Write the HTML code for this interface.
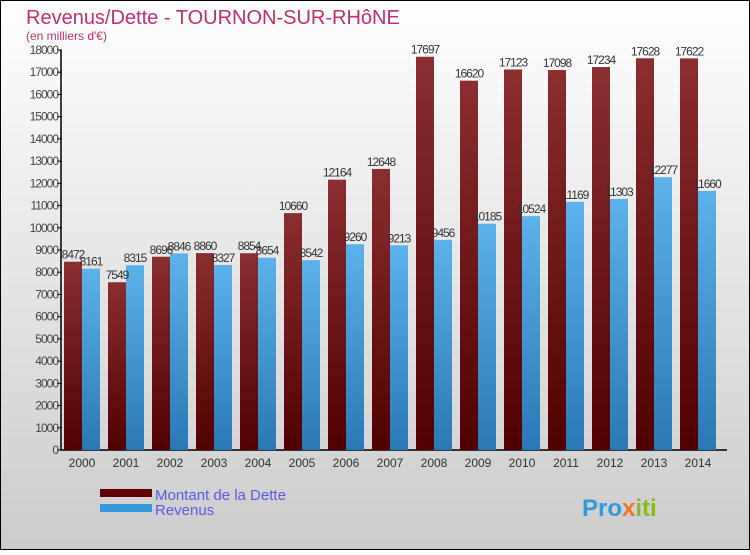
<!DOCTYPE html>
<html><head><meta charset="utf-8"><style>
body{margin:0;width:750px;height:550px;overflow:hidden;font-family:"Liberation Sans",sans-serif}
</style></head><body>
<svg width="750" height="550" xmlns="http://www.w3.org/2000/svg">
<defs>
<linearGradient id="bg" x1="0" y1="0" x2="0" y2="1"><stop offset="0" stop-color="#ffffff"/><stop offset="1" stop-color="#cccccc"/></linearGradient>
<linearGradient id="gd" x1="0" y1="0" x2="0" y2="1"><stop offset="0" stop-color="#8a2e30"/><stop offset="1" stop-color="#500000"/></linearGradient>
<linearGradient id="gr" x1="0" y1="0" x2="0" y2="1"><stop offset="0" stop-color="#5cb2ea"/><stop offset="1" stop-color="#2a78b4"/></linearGradient>
</defs>
<rect x="0.5" y="0.5" width="749" height="549" fill="url(#bg)" stroke="#000"/>
<text x="26" y="24" font-size="20" fill="#c0306a">Revenus/Dette - TOURNON-SUR-RHôNE</text>
<text x="26" y="40" font-size="12" fill="#c0306a">(en milliers d'€)</text>
<g id="yaxis"></g>
<g id="bars"></g>
<g>
<rect x="100" y="489" width="52" height="8" fill="#600000"/>
<text x="155" y="500" font-size="15" fill="#5a5aee">Montant de la Dette</text>
<rect x="100" y="504" width="52" height="8" fill="#3399dd"/>
<text x="155" y="515" font-size="15" fill="#5a5aee">Revenus</text>
</g>
<text x="582" y="516" font-size="24" font-weight="bold" fill="#3399dd">Pro<tspan fill="#ee7722">x</tspan><tspan fill="#88bb22">iti</tspan></text>
</svg>
<script>
const years=["2000","2001","2002","2003","2004","2005","2006","2007","2008","2009","2010","2011","2012","2013","2014"];
const debt=[8472,7549,8696,8860,8854,10660,12164,12648,17697,16620,17123,17098,17234,17628,17622];
const revenue=[8161,8315,8846,8327,8654,8542,9260,9213,9456,10185,10524,11169,11303,12277,11660];
const yTicks=[0,1000,2000,3000,4000,5000,6000,7000,8000,9000,10000,11000,12000,13000,14000,15000,16000,17000,18000];
const NS="http://www.w3.org/2000/svg";
function y(v){return 450-v*400/18000;}
function xg(i){return 64+i*44;}
const ya=document.getElementById('yaxis'),bg=document.getElementById('bars');
function mk(tag,attrs,parent,txt){const e=document.createElementNS(NS,tag);for(const k in attrs)e.setAttribute(k,attrs[k]);if(txt!==undefined)e.textContent=txt;parent.appendChild(e);return e;}
yTicks.forEach(t=>{
 const l=mk('line',{x1:57,x2:62,y1:y(t),y2:y(t),stroke:'#000'},ya);
 
 
 const tx=mk('text',{x:58,y:y(t)+4,'text-anchor':'end','font-size':12,fill:'#444','letter-spacing':'-1'},ya,String(t));
 
 
});
years.forEach((yr,i)=>{
 const x0=xg(i);
 const d=mk('rect',{x:x0,y:y(debt[i]),width:18,height:450-y(debt[i]),fill:'url(#gd)'},bg);
 
 
 const r=mk('rect',{x:x0+18,y:y(revenue[i]),width:18,height:450-y(revenue[i]),fill:'url(#gr)'},bg);
 
 
 const dl=mk('text',{x:x0+9,y:y(debt[i])-3,'text-anchor':'middle','font-size':12,fill:'#333','letter-spacing':'-1'},bg,String(debt[i]));
 
 
 const rl=mk('text',{x:x0+27,y:y(revenue[i])-3,'text-anchor':'middle','font-size':12,fill:'#333','letter-spacing':'-1'},bg,String(revenue[i]));
 
 
 const xl=mk('text',{x:x0+18,y:467,'text-anchor':'middle','font-size':12,fill:'#333'},bg,yr);
 
 
});
const ax=mk('path',{d:'M61 50 V450 H727',stroke:'#000',fill:'none','stroke-width':1.5},ya);


</script>
</body></html>
